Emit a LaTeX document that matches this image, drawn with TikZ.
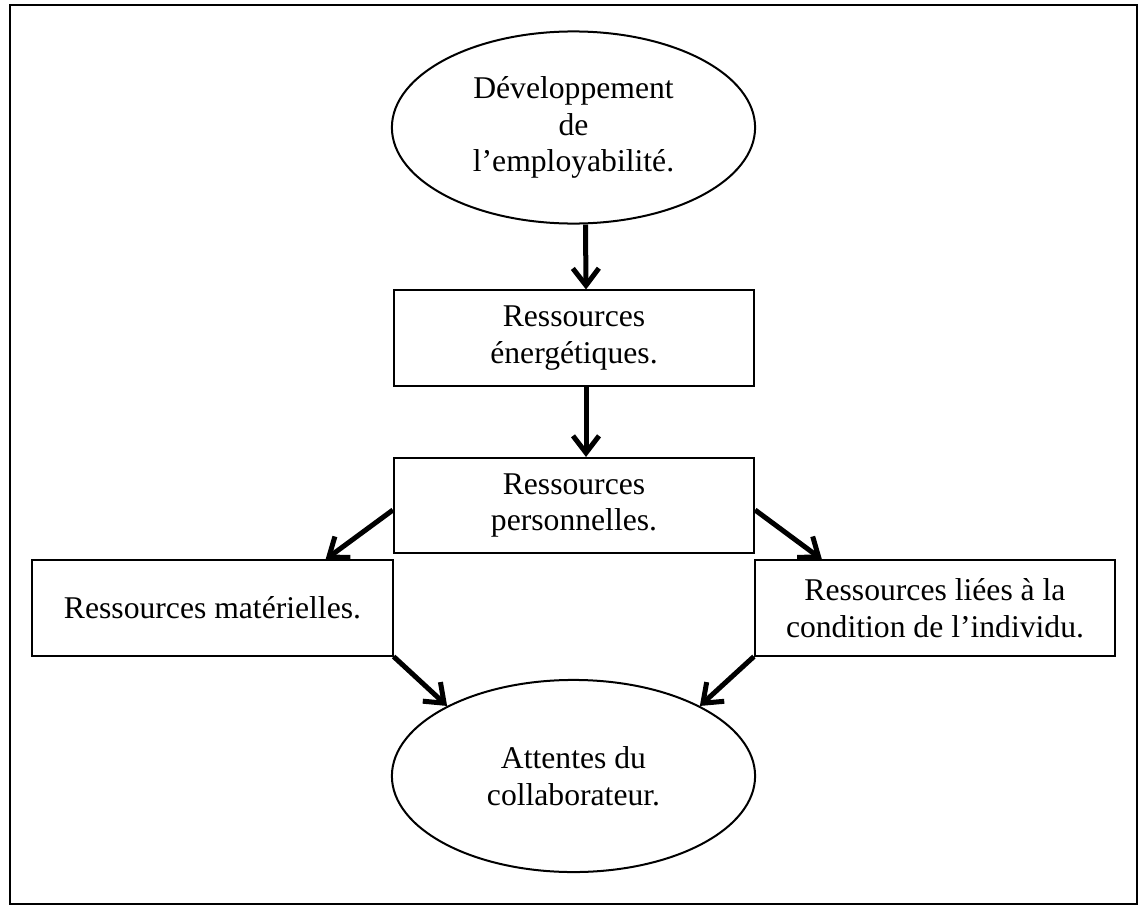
\documentclass[tikz,border=0pt]{standalone}
\usepackage{fontspec}
\setmainfont{Liberation Serif}
\usetikzlibrary{arrows.meta,shapes.geometric}

\begin{document}
\begin{tikzpicture}[x=0.01cm,y=-0.01cm, every node/.style={font=\fontsize{9}{10.4}\selectfont, align=center, inner sep=0pt},
boite/.style={draw, line width=0.02cm, minimum width=3.6cm, minimum height=0.95cm},
bulle/.style={draw, ellipse, line width=0.02cm, minimum width=3.63cm, minimum height=1.92cm},
fleche/.style={line width=0.05cm, -{Straight Barb[length=0.17cm,width=0.26cm]}}]
\useasboundingbox (0,0) rectangle (1139,906);
\draw[line width=0.025cm] (10,5) rectangle (1137,904);
\node[bulle] (dev) at (573.5,127.5) {Développement\\de\\l’employabilité.};
\node[boite] (energ) at (574,338) {Ressources\\énergétiques.};
\node[boite] (perso) at (574,505.5) {Ressources\\personnelles.};
\node[boite] (mat) at (212.5,608) {Ressources matérielles.};
\node[boite] (cond) at (935,608) {Ressources liées à la\\condition de l’individu.};
\node[bulle] (att) at (573.5,776) {Attentes du\\collaborateur.};

\draw[fleche] ([xshift=0.12cm]dev.south) -- ([xshift=0.12cm]energ.north);
\draw[fleche] ([xshift=0.12cm]energ.south) -- ([xshift=0.12cm]perso.north);
\draw[fleche] ([yshift=-0.045cm]perso.west) -- ([xshift=-0.68cm]mat.north east);
\draw[fleche] ([yshift=-0.045cm]perso.east) -- ([xshift=0.68cm]cond.north west);
\draw[fleche] (mat.south east) -- (att.151);
\draw[fleche] (cond.south west) -- (att.29);
\end{tikzpicture}
\end{document}
